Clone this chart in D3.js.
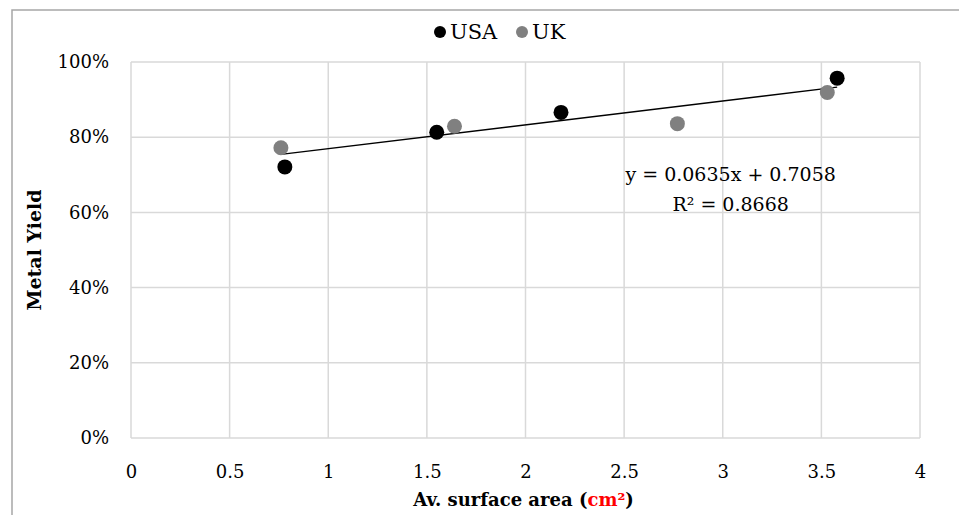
<!DOCTYPE html>
<html>
<head>
<meta charset="utf-8">
<script src="https://cdn.jsdelivr.net/npm/d3@7"></script>
<style>
  body { margin: 0; background: #fff; }
  svg { display: block; font-family: "DejaVu Serif", "Liberation Serif", serif; }
</style>
</head>
<body>
<svg id="chart"></svg>
<script>
// data
const usaX = [0.78, 1.55, 2.18, 3.58];
const usaY = [0.721, 0.813, 0.866, 0.957];
const ukX = [0.76, 1.64, 2.77, 3.53];
const ukY = [0.772, 0.829, 0.836, 0.919];
const seriesNames = ['USA', 'UK'];
const seriesColors = ['#000000', '#808080'];
const xTicks = [0, 0.5, 1, 1.5, 2, 2.5, 3, 3.5, 4];
const yTicks = [0, 0.2, 0.4, 0.6, 0.8, 1];
const trendSlope = 0.0635;
const trendIntercept = 0.7058;
const trendR2 = 0.8668;

const W = 959, H = 515;
const margin = { top: 62, right: 39, bottom: 77, left: 131 };
const width = W - margin.left - margin.right;
const height = H - margin.top - margin.bottom;
const font = '"DejaVu Serif", "Liberation Serif", serif';

const svg = d3.select('#chart').attr('width', W).attr('height', H);

// outer frame (only top and left visible)
svg.append('path')
  .attr('d', `M12,${H} L12,10 L${W},10`)
  .attr('fill', 'none')
  .attr('stroke', '#a6a6a6')
  .attr('stroke-width', 1.5);

const x = d3.scaleLinear().domain([0, 4]).range([0, width]);
const y = d3.scaleLinear().domain([0, 1]).range([height, 0]);

const chart = svg.append('g')
  .attr('transform', `translate(${margin.left}, ${margin.top})`);

// gridlines
chart.append('g')
  .selectAll('line')
  .data(xTicks)
  .join('line')
  .attr('x1', d => x(d)).attr('x2', d => x(d))
  .attr('y1', 0).attr('y2', height)
  .attr('stroke', '#d9d9d9').attr('stroke-width', 1.5);
chart.append('g')
  .selectAll('line')
  .data(yTicks)
  .join('line')
  .attr('x1', 0).attr('x2', width)
  .attr('y1', d => y(d)).attr('y2', d => y(d))
  .attr('stroke', '#d9d9d9').attr('stroke-width', 1.5);

// axes (labels only)
const xAxis = d3.axisBottom(x).tickValues(xTicks).tickSize(0).tickPadding(27)
  .tickFormat(d3.format('~g'));
const yAxis = d3.axisLeft(y).tickValues(yTicks).tickSize(0).tickPadding(22)
  .tickFormat(d3.format('.0%'));

const gx = chart.append('g').attr('transform', `translate(0, ${height})`).call(xAxis);
const gy = chart.append('g').call(yAxis);
[gx, gy].forEach(g => {
  g.select('.domain').remove();
  g.selectAll('text')
    .attr('font-family', font)
    .attr('font-size', 18)
    .attr('fill', '#000');
});
gx.selectAll('text').attr('dy', '0.71em');

// trendline from fitted equation
const allX = usaX.concat(ukX);
const tx = d3.extent(allX);
chart.append('line')
  .attr('x1', x(tx[0])).attr('y1', y(trendSlope * tx[0] + trendIntercept))
  .attr('x2', x(tx[1])).attr('y2', y(trendSlope * tx[1] + trendIntercept))
  .attr('stroke', '#000').attr('stroke-width', 1.3);

// points
const series = [
  { name: seriesNames[0], color: seriesColors[0], pts: usaX.map((v, i) => [v, usaY[i]]) },
  { name: seriesNames[1], color: seriesColors[1], pts: ukX.map((v, i) => [v, ukY[i]]) }
];
// draw UK first then USA so USA sits on top where they overlap
series.slice().reverse().forEach(s => {
  chart.append('g')
    .selectAll('circle')
    .data(s.pts)
    .join('circle')
    .attr('cx', d => x(d[0]))
    .attr('cy', d => y(d[1]))
    .attr('r', 7.5)
    .attr('fill', s.color);
});

// equation label
const eq = chart.append('text')
  .attr('text-anchor', 'middle')
  .attr('font-size', 19)
  .attr('fill', '#000');
eq.append('tspan').attr('x', x(3.04)).attr('y', y(0.683))
  .text(`y = ${trendSlope}x + ${trendIntercept}`);
eq.append('tspan').attr('x', x(3.04)).attr('y', y(0.604))
  .text(`R² = ${trendR2}`);

// legend
const legend = svg.append('g').attr('transform', 'translate(440, 32)');
const legendX = [0, 82];
series.forEach((s, i) => {
  legend.append('circle').attr('cx', legendX[i]).attr('cy', 0).attr('r', 6).attr('fill', s.color);
  legend.append('text').attr('x', legendX[i] + 10).attr('y', 7)
    .attr('font-size', 21).attr('fill', '#000').text(s.name);
});

// axis titles
svg.append('text')
  .attr('transform', `translate(41, ${margin.top + height / 2}) rotate(-90)`)
  .attr('text-anchor', 'middle')
  .attr('font-weight', 'bold')
  .attr('font-size', 19)
  .text('Metal Yield');

const xt = svg.append('text')
  .attr('x', margin.left + width / 2 - 2)
  .attr('y', 506)
  .attr('text-anchor', 'middle')
  .attr('font-weight', 'bold')
  .attr('font-size', 18);
xt.append('tspan').text('Av. surface area (');
xt.append('tspan').attr('fill', '#ff0000').text('cm²');
xt.append('tspan').text(')');
</script>
</body>
</html>
